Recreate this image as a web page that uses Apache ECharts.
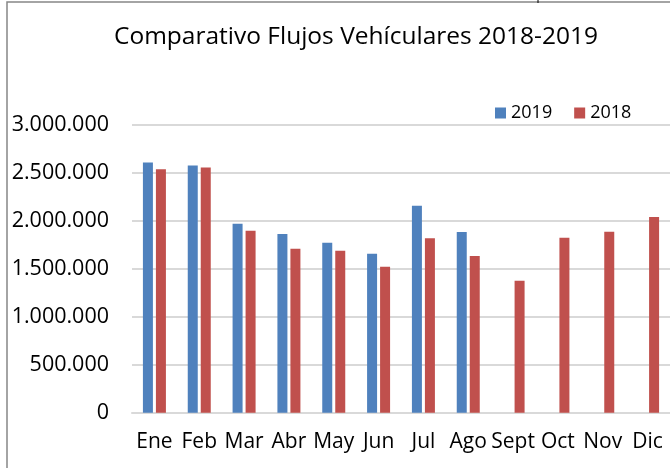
<!DOCTYPE html>
<html>
<head>
<meta charset="utf-8">
<script src="https://cdn.jsdelivr.net/npm/echarts@6/dist/echarts.min.js"></script>
<style>
html, body { margin: 0; padding: 0; background: #fff; }
#chart { width: 670px; height: 468px; }
</style>
</head>
<body>
<div id="chart"></div>
<script>
// meses
var meses = ["Ene", "Feb", "Mar", "Abr", "May", "Jun", "Jul", "Ago", "Sept", "Oct", "Nov", "Dic"];
// flujos 2019 (solo hasta agosto)
var flujos2019 = [2605000, 2574000, 1969000, 1861000, 1771000, 1656000, 2157000, 1882000, null, null, null, null];
// flujos 2018
var flujos2018 = [2536000, 2553000, 1896000, 1708000, 1687000, 1520000, 1816000, 1632000, 1374000, 1823000, 1886000, 2039000];
// eje y
var yMin = 0, yMax = 3000000, yPaso = 500000;

var fuente = "'Open Sans', sans-serif";

// separador de miles con punto
function miles(v) {
	return String(v).replace(/\B(?=(\d{3})+(?!\d))/g, ".");
}

var chart = echarts.init(document.getElementById("chart"));

chart.setOption({
	animation: false,
	textStyle: { fontFamily: fuente },
	title: {
		text: "Comparativo Flujos Vehículares 2018-2019",
		left: 351,
		top: 20,
		textAlign: "center",
		textStyle: { fontFamily: fuente, fontSize: 24.5, fontWeight: "normal", color: "#000" }
	},
	legend: {
		left: 490,
		top: 99,
		icon: "rect",
		itemWidth: 11,
		itemHeight: 11,
		itemGap: 22,
		textStyle: { fontFamily: fuente, fontSize: 18, color: "#000" },
		data: ["2019", "2018"]
	},
	grid: { left: 132, top: 124.7, width: 540, bottom: 55.3, containLabel: false },
	xAxis: {
		type: "category",
		data: meses,
		axisLine: { lineStyle: { color: "#D9D9D9", width: 2 } },
		axisTick: { show: false },
		axisLabel: { color: "#000", fontSize: 21, fontFamily: fuente, margin: 19, interval: 0 }
	},
	yAxis: {
		type: "value",
		min: yMin,
		max: yMax,
		interval: yPaso,
		axisLine: { show: false },
		axisTick: { show: false },
		splitLine: { lineStyle: { color: "#D9D9D9", width: 2 } },
		axisLabel: { color: "#000", fontSize: 21.5, fontFamily: fuente, margin: 23, formatter: miles }
	},
	series: [
		{
			name: "2019",
			type: "bar",
			data: flujos2019,
			barWidth: 10,
			barGap: "30%",
			itemStyle: { color: "#4F81BD" }
		},
		{
			name: "2018",
			type: "bar",
			data: flujos2018,
			barWidth: 10,
			barGap: "30%",
			itemStyle: { color: "#C0504D" }
		}
	],
	graphic: [
		{
			type: "rect",
			silent: true,
			shape: { x: 7, y: 2, width: 800, height: 600 },
			style: { fill: "none", stroke: "#868686", lineWidth: 1.5 }
		},
		{
			type: "line",
			silent: true,
			shape: { x1: 538, y1: 0, x2: 538, y2: 3 },
			style: { stroke: "#000", lineWidth: 1 }
		}
	]
});
</script>
</body>
</html>
